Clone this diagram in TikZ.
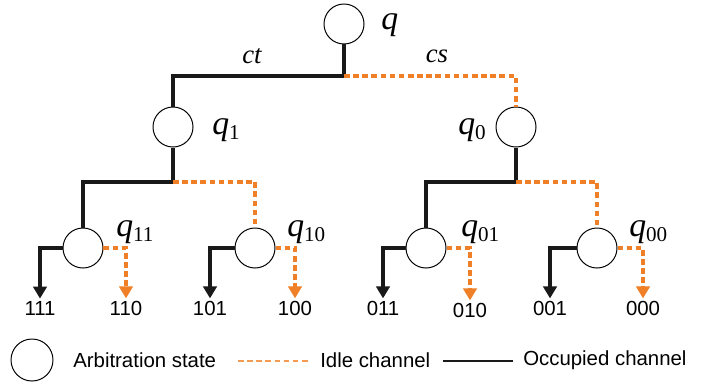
\documentclass[tikz,border=0pt]{standalone}
\usepackage{fontspec}
\setmainfont{Liberation Sans}
\newfontfamily\serf{Liberation Serif}
\usetikzlibrary{arrows.meta}
\definecolor{idleorange}{RGB}{240,128,40}
\newcommand{\qlab}[1]{q\raisebox{-0.35ex}{\fontsize{15}{15}\selectfont\upshape #1}}

\begin{document}
\begin{tikzpicture}[x=0.025cm, y=-0.025cm,
  state/.style={draw, circle, minimum size=1cm, inner sep=0pt, line width=0.7pt},
  busy/.style={line width=2.3pt, black!90},
  idle/.style={line width=2.2pt, idleorange, dash pattern=on 4pt off 2.5pt},
  tip/.style={-{Triangle[length=8.5pt,width=9.5pt]}},
  leaf/.style={font=\fontsize{14.5}{16}\selectfont, inner sep=1.5pt},
  qname/.style={anchor=base west, inner sep=0pt, font=\fontsize{24}{26}\selectfont\serf\itshape},
  chan/.style={inner sep=0pt, font=\fontsize{19}{21}\selectfont\serf\itshape},
  legtext/.style={anchor=west, inner sep=0pt, font=\fontsize{14.5}{16}\selectfont}]
  \useasboundingbox (0,0) rectangle (707,388);

  % states
  \node[state] (q) at (344,24) {};
  \node[state] (q1) at (173,127) {};
  \node[state] (q0) at (516,127) {};
  \node[state] (q11) at (83,248) {};
  \node[state] (q10) at (255,248) {};
  \node[state] (q01) at (426,248) {};
  \node[state] (q00) at (597,248) {};

  \node[qname] (lq) at (381,29) {q};
  \node[qname] (lq1) at (212,134) {\qlab{1}};
  \node[qname] (lq0) at (458,134) {\qlab{0}};
  \node[qname] (lq11) at (116,236) {\qlab{11}};
  \node[qname] (lq10) at (287,236) {\qlab{10}};
  \node[qname] (lq01) at (461,236) {\qlab{01}};
  \node[qname] (lq00) at (629,236) {\qlab{00}};

  \node[chan] (ct) at (252,56) {ct};
  \node[chan] (cs) at (437,56) {cs};

  % channels
  \coordinate (j) at (344,76);
  \coordinate (j1) at (173,182);
  \coordinate (j0) at (516,182);
  \draw[busy] (q) -- (j) -| (q1);
  \draw[idle] (j) -| (q0);
  \draw[busy] (q1) -- (j1) -| (q11);
  \draw[idle] (j1) -| (q10);
  \draw[busy] (q0) -- (j0) -| (q01);
  \draw[idle] (j0) -| (q00);

  % outputs
  \node[leaf] (l111) at (40,308) {111};
  \node[leaf] (l110) at (126,308) {110};
  \node[leaf] (l101) at (210,308) {101};
  \node[leaf] (l100) at (295,308) {100};
  \node[leaf] (l011) at (383,308) {011};
  \node[leaf] (l010) at (470,310) {010};
  \node[leaf] (l001) at (550,308) {001};
  \node[leaf] (l000) at (643,308) {000};

  \draw[busy,tip] (q11) -| (l111);
  \draw[idle,tip] (q11) -| (l110);
  \draw[busy,tip] (q10) -| (l101);
  \draw[idle,tip] (q10) -| (l100);
  \draw[busy,tip] (q01) -| (l011);
  \draw[idle,tip] (q01) -| (l010);
  \draw[busy,tip] (q00) -| (l001);
  \draw[idle,tip] (q00) -| (l000);

  % legend
  \node[state, minimum size=42*0.025cm] (legstate) at (32,360) {};
  \node[legtext] (legstatetext) at (73,360) {Arbitration state};
  \coordinate (idlea) at (238,361);
  \coordinate (idleb) at (308,361);
  \draw[idle, line width=1.8pt, idleorange!80] (idlea) -- (idleb);
  \node[legtext] (legidle) at (320,360) {Idle channel};
  \coordinate (busya) at (443,361);
  \coordinate (busyb) at (513,361);
  \draw[busy, line width=2pt] (busya) -- (busyb);
  \node[legtext] (legbusy) at (523,360) {Occupied channel};
\end{tikzpicture}
\end{document}
